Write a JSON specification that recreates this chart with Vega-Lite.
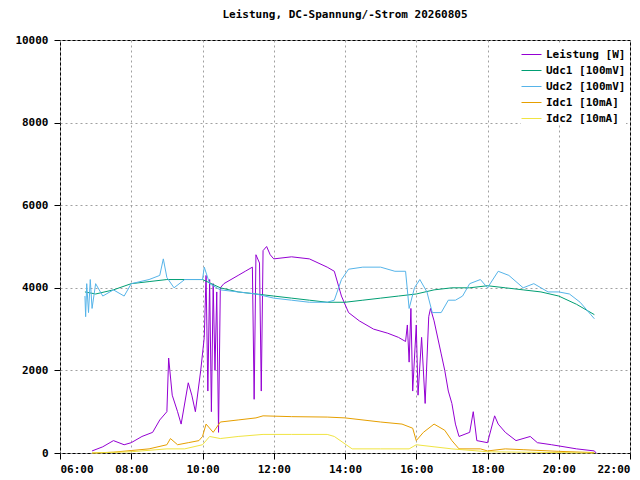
{
  "$schema": "https://vega.github.io/schema/vega-lite/v6.json",
  "width": 570,
  "height": 413,
  "autosize": {"type": "none"},
  "padding": {"left": 60, "top": 40, "right": 10, "bottom": 27},
  "background": "white",
  "title": {"text": "Leistung, DC-Spannung/-Strom 20260805", "font": "DejaVu Sans Mono", "fontSize": 11, "fontWeight": "bold", "offset": 14},
  "config": {
    "view": {"stroke": "black", "strokeWidth": 1},
    "axis": {"labelFont": "DejaVu Sans Mono", "labelFontSize": 11, "labelFontWeight": "bold", "labelColor": "black", "gridColor": "#a0a0a0", "gridDash": [2, 3], "domain": false, "tickColor": "black", "tickSize": 6, "tickDirection": "in"}
  },
  "data": {"values": [
    {"s":"Leistung [W]","t":6.9,"v":50},{"s":"Leistung [W]","t":7.2,"v":150},{"s":"Leistung [W]","t":7.5,"v":300},{"s":"Leistung [W]","t":7.8,"v":200},{"s":"Leistung [W]","t":8.0,"v":250},{"s":"Leistung [W]","t":8.3,"v":400},{"s":"Leistung [W]","t":8.6,"v":500},{"s":"Leistung [W]","t":8.8,"v":800},{"s":"Leistung [W]","t":9.0,"v":1000},{"s":"Leistung [W]","t":9.05,"v":2300},{"s":"Leistung [W]","t":9.15,"v":1400},{"s":"Leistung [W]","t":9.3,"v":1000},{"s":"Leistung [W]","t":9.4,"v":700},{"s":"Leistung [W]","t":9.6,"v":1700},{"s":"Leistung [W]","t":9.7,"v":1400},{"s":"Leistung [W]","t":9.8,"v":1000},{"s":"Leistung [W]","t":9.95,"v":2000},{"s":"Leistung [W]","t":10.05,"v":2800},{"s":"Leistung [W]","t":10.1,"v":4300},{"s":"Leistung [W]","t":10.15,"v":1500},{"s":"Leistung [W]","t":10.2,"v":4200},{"s":"Leistung [W]","t":10.25,"v":1000},{"s":"Leistung [W]","t":10.3,"v":4100},{"s":"Leistung [W]","t":10.35,"v":2000},{"s":"Leistung [W]","t":10.4,"v":3900},{"s":"Leistung [W]","t":10.45,"v":500},{"s":"Leistung [W]","t":10.5,"v":4000},{"s":"Leistung [W]","t":10.6,"v":4100},{"s":"Leistung [W]","t":10.8,"v":4200},{"s":"Leistung [W]","t":11.0,"v":4300},{"s":"Leistung [W]","t":11.2,"v":4400},{"s":"Leistung [W]","t":11.4,"v":4500},{"s":"Leistung [W]","t":11.45,"v":1300},{"s":"Leistung [W]","t":11.5,"v":4800},{"s":"Leistung [W]","t":11.6,"v":4600},{"s":"Leistung [W]","t":11.65,"v":1500},{"s":"Leistung [W]","t":11.7,"v":4900},{"s":"Leistung [W]","t":11.8,"v":5000},{"s":"Leistung [W]","t":11.9,"v":4800},{"s":"Leistung [W]","t":12.0,"v":4700},{"s":"Leistung [W]","t":12.5,"v":4750},{"s":"Leistung [W]","t":13.0,"v":4700},{"s":"Leistung [W]","t":13.5,"v":4500},{"s":"Leistung [W]","t":13.7,"v":4400},{"s":"Leistung [W]","t":13.9,"v":3800},{"s":"Leistung [W]","t":14.1,"v":3400},{"s":"Leistung [W]","t":14.4,"v":3200},{"s":"Leistung [W]","t":14.8,"v":3000},{"s":"Leistung [W]","t":15.2,"v":2900},{"s":"Leistung [W]","t":15.5,"v":2800},{"s":"Leistung [W]","t":15.7,"v":2700},{"s":"Leistung [W]","t":15.75,"v":3100},{"s":"Leistung [W]","t":15.8,"v":2200},{"s":"Leistung [W]","t":15.85,"v":3500},{"s":"Leistung [W]","t":15.9,"v":1500},{"s":"Leistung [W]","t":16.0,"v":3100},{"s":"Leistung [W]","t":16.05,"v":1400},{"s":"Leistung [W]","t":16.15,"v":2800},{"s":"Leistung [W]","t":16.25,"v":1200},{"s":"Leistung [W]","t":16.35,"v":3300},{"s":"Leistung [W]","t":16.4,"v":3500},{"s":"Leistung [W]","t":16.5,"v":3200},{"s":"Leistung [W]","t":16.7,"v":2400},{"s":"Leistung [W]","t":16.8,"v":2000},{"s":"Leistung [W]","t":16.9,"v":1500},{"s":"Leistung [W]","t":17.0,"v":1200},{"s":"Leistung [W]","t":17.1,"v":700},{"s":"Leistung [W]","t":17.2,"v":400},{"s":"Leistung [W]","t":17.5,"v":500},{"s":"Leistung [W]","t":17.6,"v":1000},{"s":"Leistung [W]","t":17.7,"v":300},{"s":"Leistung [W]","t":18.0,"v":250},{"s":"Leistung [W]","t":18.2,"v":900},{"s":"Leistung [W]","t":18.3,"v":700},{"s":"Leistung [W]","t":18.5,"v":500},{"s":"Leistung [W]","t":18.8,"v":300},{"s":"Leistung [W]","t":19.2,"v":400},{"s":"Leistung [W]","t":19.4,"v":250},{"s":"Leistung [W]","t":19.8,"v":200},{"s":"Leistung [W]","t":20.5,"v":100},{"s":"Leistung [W]","t":21.0,"v":50},{"s":"Leistung [W]","t":21.05,"v":0},

    {"s":"Udc1 [100mV]","t":6.7,"v":3900},{"s":"Udc1 [100mV]","t":7.0,"v":3850},{"s":"Udc1 [100mV]","t":7.5,"v":3950},{"s":"Udc1 [100mV]","t":8.0,"v":4100},{"s":"Udc1 [100mV]","t":8.5,"v":4150},{"s":"Udc1 [100mV]","t":9.0,"v":4200},{"s":"Udc1 [100mV]","t":9.5,"v":4200},{"s":"Udc1 [100mV]","t":10.0,"v":4200},{"s":"Udc1 [100mV]","t":10.5,"v":4000},{"s":"Udc1 [100mV]","t":11.0,"v":3900},{"s":"Udc1 [100mV]","t":11.5,"v":3850},{"s":"Udc1 [100mV]","t":12.0,"v":3800},{"s":"Udc1 [100mV]","t":12.5,"v":3750},{"s":"Udc1 [100mV]","t":13.0,"v":3700},{"s":"Udc1 [100mV]","t":13.5,"v":3650},{"s":"Udc1 [100mV]","t":14.0,"v":3650},{"s":"Udc1 [100mV]","t":14.5,"v":3700},{"s":"Udc1 [100mV]","t":15.0,"v":3750},{"s":"Udc1 [100mV]","t":15.5,"v":3800},{"s":"Udc1 [100mV]","t":16.0,"v":3850},{"s":"Udc1 [100mV]","t":16.5,"v":3950},{"s":"Udc1 [100mV]","t":17.0,"v":4000},{"s":"Udc1 [100mV]","t":17.5,"v":4000},{"s":"Udc1 [100mV]","t":18.0,"v":4050},{"s":"Udc1 [100mV]","t":18.5,"v":4000},{"s":"Udc1 [100mV]","t":19.0,"v":3950},{"s":"Udc1 [100mV]","t":19.5,"v":3900},{"s":"Udc1 [100mV]","t":20.0,"v":3800},{"s":"Udc1 [100mV]","t":20.5,"v":3600},{"s":"Udc1 [100mV]","t":21.0,"v":3350},

    {"s":"Udc2 [100mV]","t":6.7,"v":3800},{"s":"Udc2 [100mV]","t":6.72,"v":3300},{"s":"Udc2 [100mV]","t":6.75,"v":4100},{"s":"Udc2 [100mV]","t":6.8,"v":3400},{"s":"Udc2 [100mV]","t":6.85,"v":4200},{"s":"Udc2 [100mV]","t":6.9,"v":3500},{"s":"Udc2 [100mV]","t":7.0,"v":4100},{"s":"Udc2 [100mV]","t":7.2,"v":3800},{"s":"Udc2 [100mV]","t":7.5,"v":3950},{"s":"Udc2 [100mV]","t":7.8,"v":3800},{"s":"Udc2 [100mV]","t":8.0,"v":4100},{"s":"Udc2 [100mV]","t":8.5,"v":4200},{"s":"Udc2 [100mV]","t":8.8,"v":4300},{"s":"Udc2 [100mV]","t":8.9,"v":4700},{"s":"Udc2 [100mV]","t":9.0,"v":4250},{"s":"Udc2 [100mV]","t":9.2,"v":4000},{"s":"Udc2 [100mV]","t":9.5,"v":4200},{"s":"Udc2 [100mV]","t":10.0,"v":4200},{"s":"Udc2 [100mV]","t":10.05,"v":4500},{"s":"Udc2 [100mV]","t":10.2,"v":4100},{"s":"Udc2 [100mV]","t":10.5,"v":3950},{"s":"Udc2 [100mV]","t":11.0,"v":3900},{"s":"Udc2 [100mV]","t":11.5,"v":3850},{"s":"Udc2 [100mV]","t":12.0,"v":3750},{"s":"Udc2 [100mV]","t":12.5,"v":3700},{"s":"Udc2 [100mV]","t":13.0,"v":3650},{"s":"Udc2 [100mV]","t":13.5,"v":3650},{"s":"Udc2 [100mV]","t":13.7,"v":3700},{"s":"Udc2 [100mV]","t":13.9,"v":4200},{"s":"Udc2 [100mV]","t":14.1,"v":4450},{"s":"Udc2 [100mV]","t":14.5,"v":4500},{"s":"Udc2 [100mV]","t":15.0,"v":4500},{"s":"Udc2 [100mV]","t":15.4,"v":4400},{"s":"Udc2 [100mV]","t":15.7,"v":4400},{"s":"Udc2 [100mV]","t":15.8,"v":3500},{"s":"Udc2 [100mV]","t":15.95,"v":4000},{"s":"Udc2 [100mV]","t":16.1,"v":4200},{"s":"Udc2 [100mV]","t":16.3,"v":3900},{"s":"Udc2 [100mV]","t":16.45,"v":3400},{"s":"Udc2 [100mV]","t":16.7,"v":3400},{"s":"Udc2 [100mV]","t":16.9,"v":3700},{"s":"Udc2 [100mV]","t":17.1,"v":3700},{"s":"Udc2 [100mV]","t":17.3,"v":3800},{"s":"Udc2 [100mV]","t":17.5,"v":4100},{"s":"Udc2 [100mV]","t":17.8,"v":4200},{"s":"Udc2 [100mV]","t":18.0,"v":4000},{"s":"Udc2 [100mV]","t":18.3,"v":4400},{"s":"Udc2 [100mV]","t":18.6,"v":4300},{"s":"Udc2 [100mV]","t":19.0,"v":4000},{"s":"Udc2 [100mV]","t":19.3,"v":4100},{"s":"Udc2 [100mV]","t":19.7,"v":3900},{"s":"Udc2 [100mV]","t":20.0,"v":3900},{"s":"Udc2 [100mV]","t":20.3,"v":3850},{"s":"Udc2 [100mV]","t":20.6,"v":3650},{"s":"Udc2 [100mV]","t":20.9,"v":3350},{"s":"Udc2 [100mV]","t":21.0,"v":3250},

    {"s":"Idc1 [10mA]","t":6.9,"v":0},{"s":"Idc1 [10mA]","t":7.5,"v":20},{"s":"Idc1 [10mA]","t":8.0,"v":60},{"s":"Idc1 [10mA]","t":8.5,"v":100},{"s":"Idc1 [10mA]","t":9.0,"v":200},{"s":"Idc1 [10mA]","t":9.1,"v":350},{"s":"Idc1 [10mA]","t":9.3,"v":200},{"s":"Idc1 [10mA]","t":9.6,"v":250},{"s":"Idc1 [10mA]","t":9.9,"v":300},{"s":"Idc1 [10mA]","t":10.0,"v":400},{"s":"Idc1 [10mA]","t":10.1,"v":700},{"s":"Idc1 [10mA]","t":10.3,"v":500},{"s":"Idc1 [10mA]","t":10.5,"v":750},{"s":"Idc1 [10mA]","t":11.0,"v":800},{"s":"Idc1 [10mA]","t":11.5,"v":850},{"s":"Idc1 [10mA]","t":11.7,"v":900},{"s":"Idc1 [10mA]","t":12.5,"v":880},{"s":"Idc1 [10mA]","t":13.5,"v":870},{"s":"Idc1 [10mA]","t":14.0,"v":850},{"s":"Idc1 [10mA]","t":15.0,"v":750},{"s":"Idc1 [10mA]","t":15.6,"v":700},{"s":"Idc1 [10mA]","t":15.9,"v":600},{"s":"Idc1 [10mA]","t":16.0,"v":300},{"s":"Idc1 [10mA]","t":16.2,"v":500},{"s":"Idc1 [10mA]","t":16.5,"v":700},{"s":"Idc1 [10mA]","t":16.8,"v":550},{"s":"Idc1 [10mA]","t":17.0,"v":300},{"s":"Idc1 [10mA]","t":17.2,"v":100},{"s":"Idc1 [10mA]","t":17.8,"v":100},{"s":"Idc1 [10mA]","t":18.0,"v":50},{"s":"Idc1 [10mA]","t":18.5,"v":100},{"s":"Idc1 [10mA]","t":19.0,"v":80},{"s":"Idc1 [10mA]","t":20.0,"v":40},{"s":"Idc1 [10mA]","t":21.0,"v":10},

    {"s":"Idc2 [10mA]","t":6.9,"v":0},{"s":"Idc2 [10mA]","t":8.0,"v":30},{"s":"Idc2 [10mA]","t":9.0,"v":100},{"s":"Idc2 [10mA]","t":9.5,"v":100},{"s":"Idc2 [10mA]","t":10.0,"v":200},{"s":"Idc2 [10mA]","t":10.2,"v":400},{"s":"Idc2 [10mA]","t":10.5,"v":350},{"s":"Idc2 [10mA]","t":11.0,"v":400},{"s":"Idc2 [10mA]","t":11.7,"v":450},{"s":"Idc2 [10mA]","t":12.5,"v":450},{"s":"Idc2 [10mA]","t":13.5,"v":450},{"s":"Idc2 [10mA]","t":13.7,"v":400},{"s":"Idc2 [10mA]","t":14.2,"v":100},{"s":"Idc2 [10mA]","t":15.0,"v":100},{"s":"Idc2 [10mA]","t":15.8,"v":100},{"s":"Idc2 [10mA]","t":16.0,"v":200},{"s":"Idc2 [10mA]","t":16.5,"v":150},{"s":"Idc2 [10mA]","t":17.0,"v":100},{"s":"Idc2 [10mA]","t":18.0,"v":30},{"s":"Idc2 [10mA]","t":21.0,"v":0}
  ]},
  "mark": {"type": "line", "strokeWidth": 1},
  "encoding": {
    "x": {"field": "t", "type": "quantitative", "scale": {"domain": [6, 22], "nice": false},
      "axis": {"title": null, "values": [6, 8, 10, 12, 14, 16, 18, 20, 22], "labelExpr": "(datum.value < 10 ? '0' : '') + datum.value + ':00'", "labelPadding": 4}},
    "y": {"field": "v", "type": "quantitative", "scale": {"domain": [0, 10000], "nice": false},
      "axis": {"title": null, "values": [0, 2000, 4000, 6000, 8000, 10000], "format": "d", "labelPadding": 6}},
    "color": {"field": "s", "type": "nominal",
      "sort": ["Leistung [W]", "Udc1 [100mV]", "Udc2 [100mV]", "Idc1 [10mA]", "Idc2 [10mA]"],
      "scale": {"domain": ["Leistung [W]", "Udc1 [100mV]", "Udc2 [100mV]", "Idc1 [10mA]", "Idc2 [10mA]"], "range": ["#9400d3", "#009e73", "#56b4e9", "#e69f00", "#f0e442"]},
      "legend": {"title": null, "orient": "top-right", "offset": 4, "symbolType": "stroke", "symbolSize": 400, "symbolStrokeWidth": 1, "labelFont": "DejaVu Sans Mono", "labelFontSize": 11, "labelFontWeight": "bold", "rowPadding": 0, "fillColor": "white"}}
  }
}
